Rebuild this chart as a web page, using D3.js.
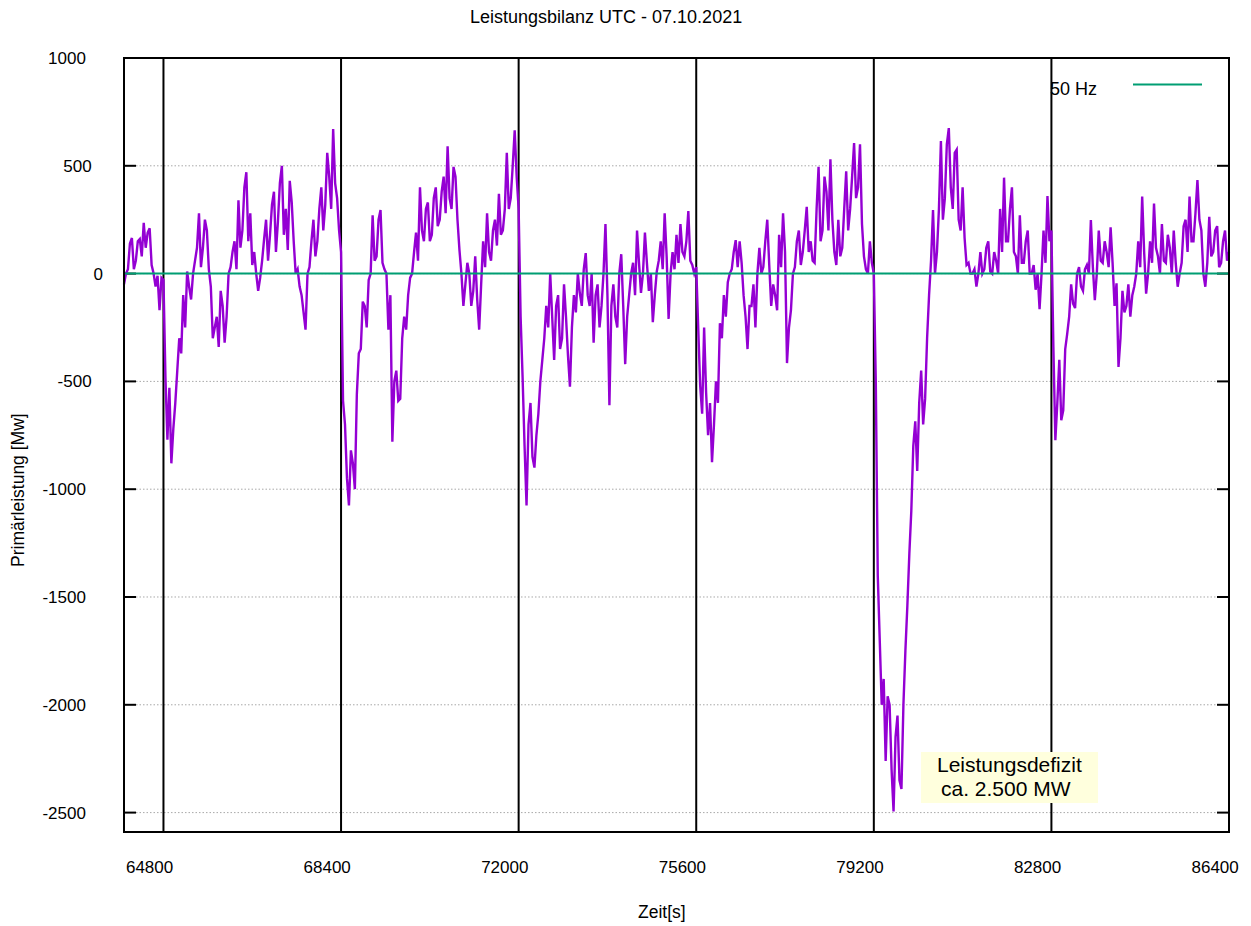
<!DOCTYPE html>
<html>
<head>
<meta charset="utf-8">
<script src="https://cdnjs.cloudflare.com/ajax/libs/d3/7.8.5/d3.min.js"></script>
<style>
body { margin: 0; background: #fff; }
text { font-family: Arial, "Liberation Sans", sans-serif; fill: #000; }
</style>
</head>
<body>
<div id="chart"></div>
<script>
var title = "Leistungsbilanz UTC - 07.10.2021";
var xLabel = "Zeit[s]";
var yLabel = "Primärleistung [Mw]";
var xTicks = [64800, 68400, 72000, 75600, 79200, 82800, 86400];
var yTicks = [1000, 500, 0, -500, -1000, -1500, -2000, -2500];
var hourLines = [64800, 68400, 72000, 75600, 79200, 82800];

// primary power [MW], one value every 40 s from 64000 s on
var tStart = 64000, tStep = 40;
var power = [
    -50, 0, 20, 140, 165, 20, 60, 150, 160, 80, 235, 120, 190, 210, 40, 0, -60, -10, -170, -20,
    -30, -480, -770, -530, -880, -720, -600, -450, -300, -370, -100, -250, 10, -60, -120, 0, 60, 120, 280, 30,
    120, 250, 200, 20, -60, -300, -250, -200, -340, -80, -150, -320, -200, 0, 30, 100, 150, 20, 340, 120,
    200, 400, 470, 150, 280, 40, 100, 0, -80, -20, 60, 160, 250, 60, 180, 320, 380, 100, 240, 420,
    500, 180, 300, 110, 430, 330, 150, 0, 20, -60, -100, -180, -260, 0, 30, 150, 250, 80, 150, 300,
    400, 200, 320, 560, 450, 300, 670, 420, 350, 200, 100, -590, -700, -950, -1075, -820, -880, -1000, -560, -370,
    -350, -130, -150, -250, -30, 0, 270, 60, 80, 250, 295, 50, 20, 0, -260, -100, -780, -500, -450, -590,
    -580, -300, -200, -260, -100, -20, 0, 100, 190, 60, 400, 200, 150, 300, 330, 150, 180, 350, 400, 220,
    250, 380, 450, 280, 590, 350, 300, 495, 450, 250, 110, 0, -150, -50, 50, 0, -150, -80, 80, -120,
    -260, -50, 150, 30, 280, 100, 60, 200, 250, 130, 370, 180, 200, 300, 560, 300, 350, 500, 665, 450,
    300, -200, -480, -800, -1075, -700, -600, -850, -900, -750, -650, -500, -400, -300, -150, -250, 0, -200, -400, -150,
    -100, -350, -300, -50, -200, -380, -525, -250, -100, -180, 0, -90, -150, 20, 95, -100, -150, 0, -320, -100,
    -50, -250, -150, 0, 230, -100, -610, -150, -50, -200, -250, 0, 90, -150, -420, -200, -100, 0, 50, -100,
    200, 50, -90, 0, 190, 50, -80, 0, -225, -100, 10, 60, 150, 20, 280, 80, -210, 0, 100, 20,
    180, 50, 230, 100, 80, 150, 290, 60, 40, 0, 30, -250, -520, -650, -250, -550, -750, -600, -875, -700,
    -500, -600, -230, -300, -100, -200, -40, 0, 20, 100, 155, 30, 150, 50, -100, -200, -350, -150, -150, -50,
    -250, 0, 120, 0, 30, 150, 250, 40, -150, -50, -100, -170, 180, 30, 280, 100, -415, -250, -170, 0,
    30, 150, 200, 40, 100, 200, 310, 100, 150, 60, 50, 300, 495, 150, 200, 450, 380, 200, 530, 250,
    100, 40, 250, 80, 120, 300, 475, 200, 300, 450, 605, 350, 400, 600, 230, 80, 20, 0, 150, 50,
    0, -500, -1400, -1700, -2000, -1880, -2260, -1960, -2000, -2300, -2495, -2150, -2050, -2350, -2390, -2000, -1750, -1540, -1300, -1100,
    -800, -685, -915, -600, -450, -700, -580, -300, -100, 60, 295, 0, 100, 300, 615, 250, 350, 600, 675, 400,
    300, 560, 575, 250, 200, 400, 165, 40, 50, 0, 0, 20, -60, 0, 100, 0, 20, 120, 150, 10,
    0, 100, 60, 0, 300, 100, 445, 150, 150, 300, 400, 100, 80, 0, 270, 50, 50, 150, 200, 0,
    0, 40, -75, 0, -165, 0, 200, 50, 360, 150, 200, -340, -773, -600, -400, -680, -634, -350, -280, -200,
    -50, -140, -160, 0, 30, -60, -80, 20, 40, 0, 248, 30, -123, 0, 200, 60, 50, 150, 100, 30,
    215, 50, -150, -45, -433, -300, -80, -180, -150, -50, -200, -100, -60, 0, 150, 30, 357, 100, -93, 0,
    150, 50, 325, 120, 80, 0, 230, 60, 50, 180, 120, 0, 200, 50, -61, 0, 50, 220, 250, 100,
    357, 150, 150, 280, 434, 250, 200, 0, -61, 50, 263, 80, 100, 200, 220, 30, 50, 150, 200, 60,
    100
];

// 50 Hz reference (zero balance)
var nominalT = [64000, 86400];
var nominalP = [0, 0];
var legendLabel = "50 Hz";
var noteLines = ["Leistungsdefizit", "ca. 2.500 MW"];

var W = 1251, H = 926;
var plotL = 124, plotR = 1229, plotT = 58, plotB = 832;

var svg = d3.select("#chart").append("svg")
    .attr("width", W)
    .attr("height", H);

var x = d3.scaleLinear().domain([64000, 86400]).range([plotL, plotR]);
var y = d3.scaleLinear().domain([-2590, 1000]).range([plotB, plotT]);

// dotted horizontal grid
svg.append("g").selectAll("line")
    .data(yTicks.filter(function(d) { return d < 1000; }))
  .enter()
    .append("line")
    .attr("x1", plotL + 12).attr("x2", plotR - 12)
    .attr("y1", function(d) { return y(d); })
    .attr("y2", function(d) { return y(d); })
    .attr("stroke", "#a8a8a8")
    .attr("stroke-width", 1)
    .attr("stroke-dasharray", "1.5,2");

// hour marks
svg.append("g").selectAll("line")
    .data(hourLines)
  .enter()
    .append("line")
    .attr("x1", function(d) { return x(d); })
    .attr("x2", function(d) { return x(d); })
    .attr("y1", plotT).attr("y2", plotB)
    .attr("stroke", "#000")
    .attr("stroke-width", 2);

// y tick marks, inside on both sides
var ticks = svg.append("g");
yTicks.forEach(function(d) {
    ticks.append("line")
        .attr("x1", plotL).attr("x2", plotL + 12)
        .attr("y1", y(d)).attr("y2", y(d))
        .attr("stroke", "#000").attr("stroke-width", 2);
    ticks.append("line")
        .attr("x1", plotR - 12).attr("x2", plotR)
        .attr("y1", y(d)).attr("y2", y(d))
        .attr("stroke", "#000").attr("stroke-width", 2);
});

// power trace
var line = d3.line()
    .x(function(d, i) { return x(tStart + i * tStep); })
    .y(function(d) { return y(d); });

svg.append("path")
    .datum(power)
    .attr("d", line)
    .attr("fill", "none")
    .attr("stroke", "#9400d3")
    .attr("stroke-width", 2.4)
    .attr("stroke-linejoin", "miter");

// 50 Hz line
svg.append("path")
    .datum(d3.zip(nominalT, nominalP))
    .attr("d", d3.line()
        .x(function(d) { return x(d[0]); })
        .y(function(d) { return y(d[1]); }))
    .attr("fill", "none")
    .attr("stroke", "#009e73")
    .attr("stroke-width", 2);

// frame
svg.append("rect")
    .attr("x", plotL).attr("y", plotT)
    .attr("width", plotR - plotL).attr("height", plotB - plotT)
    .attr("fill", "none")
    .attr("stroke", "#000")
    .attr("stroke-width", 2);

// y tick labels (gnuplot style placement)
svg.append("g").selectAll("text")
    .data(yTicks)
  .enter()
    .append("text")
    .attr("x", function(d) {
        var digits = String(Math.abs(d)).length;
        return 108.7 - 5.7 * digits;
    })
    .attr("y", function(d) { return y(d) + 6; })
    .attr("text-anchor", "end")
    .style("font-size", "17px")
    .text(function(d) { return d; });

// x tick labels
svg.append("g").selectAll("text")
    .data(xTicks)
  .enter()
    .append("text")
    .attr("x", function(d) { return x(d) - 37.5; })
    .attr("y", 873)
    .style("font-size", "17px")
    .text(function(d) { return d; });

// titles
svg.append("text")
    .attr("x", 470).attr("y", 23)
    .style("font-size", "18px")
    .text(title);

svg.append("text")
    .attr("x", 638).attr("y", 918)
    .style("font-size", "17.5px")
    .text(xLabel);

svg.append("text")
    .attr("transform", "translate(24,567) rotate(-90)")
    .style("font-size", "17.5px")
    .text(yLabel);

// legend
svg.append("text")
    .attr("x", 1050).attr("y", 95)
    .style("font-size", "18px")
    .text(legendLabel);
svg.append("line")
    .attr("x1", 1133).attr("x2", 1202)
    .attr("y1", 84.5).attr("y2", 84.5)
    .attr("stroke", "#009e73")
    .attr("stroke-width", 2);

// annotation box
svg.append("rect")
    .attr("x", 921).attr("y", 752)
    .attr("width", 177).attr("height", 51)
    .attr("fill", "#ffffdd");
svg.append("g").selectAll("text")
    .data(noteLines)
  .enter()
    .append("text")
    .attr("x", function(d, i) { return i === 0 ? 937 : 941; })
    .attr("y", function(d, i) { return 772 + i * 24; })
    .style("font-size", "21px")
    .text(function(d) { return d; });
</script>
</body>
</html>
